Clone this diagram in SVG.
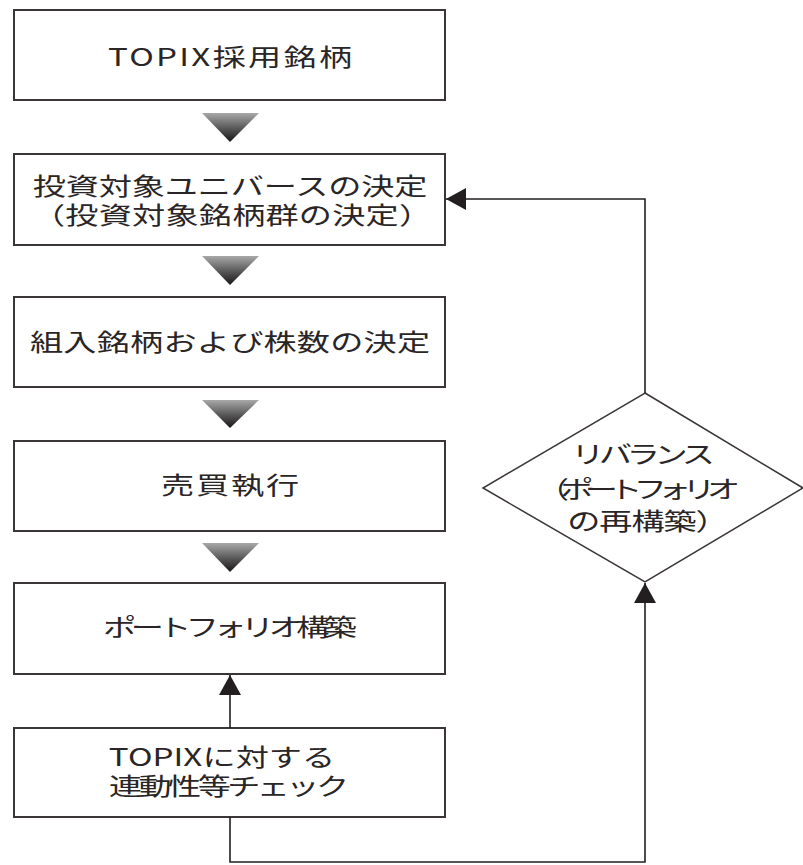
<svg xmlns="http://www.w3.org/2000/svg" width="803" height="865" viewBox="0 0 803 865">
<style>
.box{fill:#fff;stroke:#3a3536;stroke-width:2}
.dia{fill:#fff;stroke:#3a3536;stroke-width:1.5}
.t{font-family:"Noto Sans CJK JP","Noto Sans",sans-serif;font-size:24px;font-weight:400;fill:#2a2526;text-anchor:middle}
.ln{fill:none;stroke:#231f20;stroke-width:1.6}
.tri{fill:url(#g)}
</style>
<defs>
<linearGradient id="g" x1="0" y1="0" x2="0" y2="1">
<stop offset="0" stop-color="#a8a8a8"/>
<stop offset="0.55" stop-color="#555"/>
<stop offset="1" stop-color="#1a1516"/>
</linearGradient>
<marker id="ah" markerUnits="userSpaceOnUse" markerWidth="22" markerHeight="22" viewBox="0 0 20 22" refX="20" refY="11" orient="auto">
<path d="M0,0 L20,11 L0,22 Z" fill="#231f20"/>
</marker>
</defs>
<g id="n1"><rect class="box" x="14" y="10" width="431" height="90"/><text class="t" transform="translate(230,65.5) scale(1.38,1)" textLength="177" lengthAdjust="spacing">TOPIX採用銘柄</text></g>
<g id="n2"><rect class="box" x="14" y="154" width="431" height="91"/><text class="t" transform="translate(230,195) scale(1.38,1)" textLength="286" lengthAdjust="spacing">投資対象ユニバースの決定</text><text class="t" transform="translate(232,224) scale(1.38,1)" textLength="290" lengthAdjust="spacing">（投資対象銘柄群の決定）</text></g>
<g id="n3"><rect class="box" x="14" y="297" width="431" height="90"/><text class="t" transform="translate(230,351) scale(1.38,1)" textLength="290" lengthAdjust="spacing">組入銘柄および株数の決定</text></g>
<g id="n4"><rect class="box" x="14" y="441" width="431" height="90"/><text class="t" transform="translate(230,493.5) scale(1.38,1)" textLength="100" lengthAdjust="spacing">売買執行</text></g>
<g id="n5"><rect class="box" x="14" y="583" width="431" height="91"/><text class="t" transform="translate(230,636) scale(1.38,1)" textLength="184" lengthAdjust="spacing">ポートフォリオ構築</text></g>
<g id="n6"><rect class="box" x="14" y="728" width="431" height="89"/><text class="t" transform="translate(222,766) scale(1.38,1)" textLength="164" lengthAdjust="spacing">TOPIXに対する</text><text class="t" transform="translate(229,795) scale(1.38,1)" textLength="174" lengthAdjust="spacing">連動性等チェック</text></g>
<g id="n7"><polygon class="dia" points="645,393 803,488 645,582 483,488"/><text class="t" transform="translate(643,463) scale(1.38,1)" textLength="104" lengthAdjust="spacing">リバランス</text><text class="t" transform="translate(638,498) scale(1.38,1)" textLength="148" lengthAdjust="spacing">（ポートフォリオ</text><text class="t" transform="translate(648,530) scale(1.38,1)" textLength="117" lengthAdjust="spacing">の再構築）</text></g>
<g id="connectors">
<polygon class="tri" points="202,113 259,113 230,142"/>
<polygon class="tri" points="202,256 259,256 230,285"/>
<polygon class="tri" points="202,400 259,400 230,428"/>
<polygon class="tri" points="202,543 259,543 230,572"/>
<path class="ln" d="M230,728 V675" marker-end="url(#ah)"/>
<path class="ln" d="M230,817 V862 H645 V583" marker-end="url(#ah)"/>
<path class="ln" d="M645,393 V199 H446" marker-end="url(#ah)"/>
</g>
</svg>
